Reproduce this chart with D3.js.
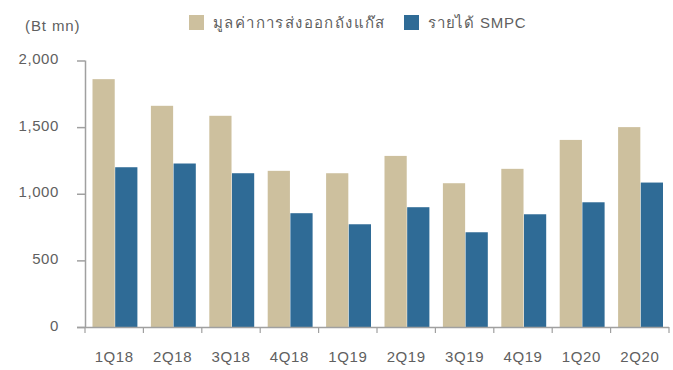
<!DOCTYPE html>
<html>
<head>
<meta charset="utf-8">
<script src="https://cdn.jsdelivr.net/npm/d3@7"></script>
<style>
  body { margin: 0; background: #fff; }
  svg text { font-family: "Liberation Sans", Arial, "Noto Sans", sans-serif; fill: #606060; }
</style>
</head>
<body>
<svg id="chart" width="673" height="370"></svg>
<script>
// Quarterly gas-cylinder export value vs SMPC revenue (Bt mn)
const quarters = ["1Q18", "2Q18", "3Q18", "4Q18", "1Q19", "2Q19", "3Q19", "4Q19", "1Q20", "2Q20"];
const exportValue = [1860, 1660, 1585, 1172, 1154, 1284, 1079, 1187, 1404, 1500];
const smpcRevenue = [1199, 1227, 1154, 854, 771, 899, 711, 846, 936, 1084];
const seriesNames = ["มูลค่าการส่งออกถังแก๊ส", "รายได้ SMPC"];
const seriesColors = ["#cdc09e", "#2f6b96"];
const yTicks = [0, 500, 1000, 1500, 2000];
const unitLabel = "(Bt mn)";

const svg = d3.select("#chart");
const plotLeft = 85, plotRight = 669, plotTop = 60.5, plotBottom = 327;

const x0 = d3.scaleBand().domain(quarters).range([plotLeft, plotRight]).padding(0);
const x1 = d3.scaleBand().domain([0, 1]).range([7.5, x0.bandwidth() - 6]).paddingInner(0.02);
const y = d3.scaleLinear().domain([0, 2000]).range([plotBottom, plotTop]);

const axisColor = "#a0a0a0";

// bars
const rows = quarters.map((q, i) => ({ q, vals: [exportValue[i], smpcRevenue[i]] }));
const groups = svg.append("g").selectAll("g").data(rows).join("g")
  .attr("transform", d => `translate(${x0(d.q)},0)`);
groups.selectAll("rect").data(d => d.vals.map((v, k) => ({ v, k }))).join("rect")
  .attr("x", d => x1(d.k))
  .attr("width", x1.bandwidth())
  .attr("y", d => y(d.v))
  .attr("height", d => y(0) - y(d.v))
  .attr("fill", d => seriesColors[d.k]);

// y axis
const yAxis = svg.append("g").attr("transform", `translate(${plotLeft},0)`)
  .call(d3.axisLeft(y).tickValues(yTicks).tickSize(8).tickPadding(18)
    .tickFormat(d3.format(",")));
yAxis.select(".domain").attr("stroke", axisColor).attr("stroke-width", 1.5)
  .attr("d", `M0.5,${plotTop}V${plotBottom}`);
yAxis.selectAll(".tick line").attr("stroke", axisColor).attr("stroke-width", 1.5);
yAxis.selectAll(".tick text").attr("font-size", 15).attr("dy", "0.2em")
  .style("letter-spacing", "0.6px");

// x axis with ticks at band boundaries
const xAxis = svg.append("g").attr("transform", `translate(0,${plotBottom})`);
xAxis.append("line").attr("x1", plotLeft - 8).attr("x2", plotRight).attr("y1", 0.5).attr("y2", 0.5)
  .attr("stroke", axisColor).attr("stroke-width", 1.5);
const bounds = quarters.map(q => x0(q)).concat([plotRight]);
xAxis.selectAll("line.tk").data(bounds).join("line").attr("class", "tk")
  .attr("x1", d => d).attr("x2", d => d).attr("y1", 0).attr("y2", 6)
  .attr("stroke", axisColor).attr("stroke-width", 1.2);
xAxis.selectAll("text").data(quarters).join("text")
  .attr("x", d => x0(d) + x0.bandwidth() / 2)
  .attr("y", 35)
  .attr("text-anchor", "middle")
  .attr("font-size", 15)
  .style("letter-spacing", "0.6px")
  .text(d => d);

// unit label
svg.append("text").attr("x", 25).attr("y", 31).attr("font-size", 15)
  .style("letter-spacing", "0.9px").text(unitLabel);

// legend
const legendX = [189, 404];
const legendSpacing = ["1.4px", "0.8px"];
const lg = svg.append("g").selectAll("g").data(seriesNames).join("g")
  .attr("transform", (d, i) => `translate(${legendX[i]},15)`);
lg.append("rect").attr("width", 15).attr("height", 15).attr("fill", (d, i) => seriesColors[i]);
lg.append("text").attr("x", 24).attr("y", 13).attr("font-size", 15)
  .style("letter-spacing", (d, i) => legendSpacing[i]).text(d => d);
</script>
</body>
</html>
